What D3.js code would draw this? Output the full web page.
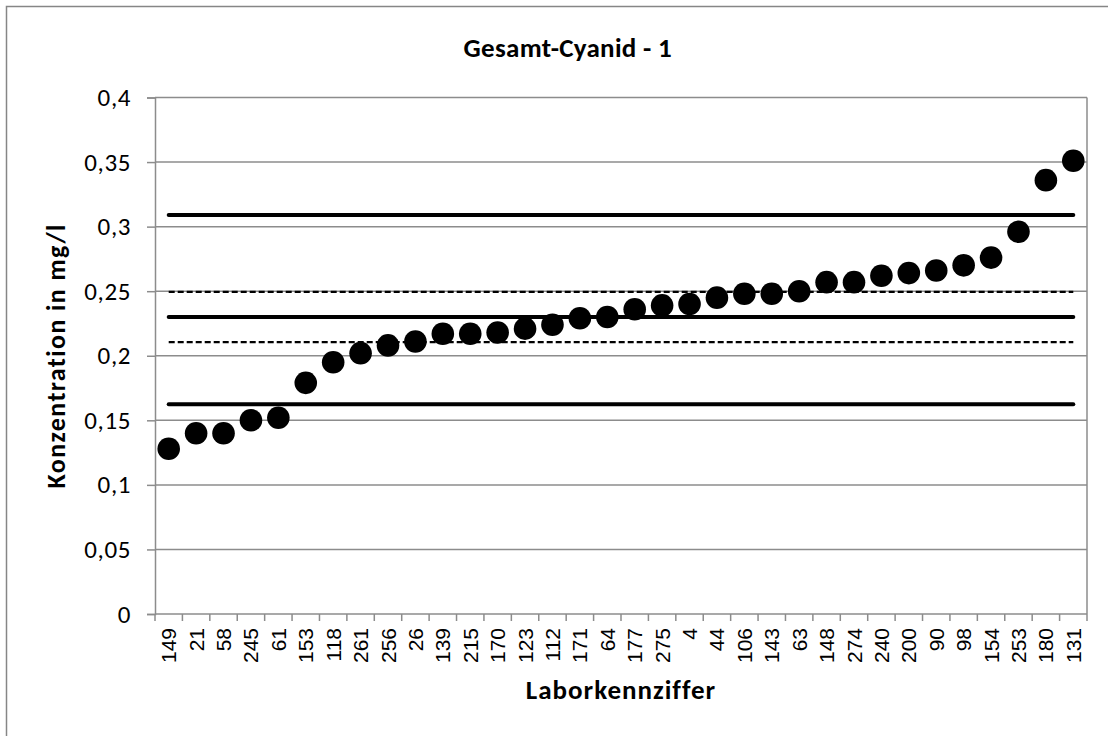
<!DOCTYPE html>
<html>
<head>
<meta charset="utf-8">
<script src="https://cdn.jsdelivr.net/npm/d3@7"></script>
<style>
  html, body { margin: 0; padding: 0; background: #fff; }
  svg { display: block; }
</style>
</head>
<body>
<svg id="chart" width="1108" height="736"></svg>
<script>
// Laboratory codes, in the order they are plotted (sorted by result)
const labs = ["149","21","58","245","61","153","118","261","256","26","139","215","170","123","112","171","64","177","275","4","44","106","143","63","148","274","240","200","90","98","154","253","180","131"];
// Reported concentration per laboratory, mg/l
const values = [0.128,0.140,0.140,0.150,0.152,0.179,0.195,0.202,0.208,0.211,0.217,0.217,0.218,0.221,0.224,0.229,0.230,0.236,0.239,0.240,0.245,0.248,0.248,0.250,0.257,0.257,0.262,0.264,0.266,0.270,0.276,0.296,0.336,0.351];
// Reference lines: assigned value, tolerance limits and inner band
const solidLines = [0.309, 0.230, 0.1625];
const dashedLines = [0.2495, 0.2105];
const yTicks = [0, 0.05, 0.1, 0.15, 0.2, 0.25, 0.3, 0.35, 0.4];

const svg = d3.select("#chart");
const W = 1108, H = 736;
const plot = { left: 155, right: 1087, top: 97.5, bottom: 614 };
const gridColor = "#8c8c8c";
const calibri = "Carlito, Calibri, 'Open Sans', sans-serif";

// Outer chart frame
svg.append("rect")
  .attr("x", 6.5).attr("y", 6.5)
  .attr("width", W + 10).attr("height", H + 10)
  .attr("fill", "#fff").attr("stroke", "#868686").attr("stroke-width", 1.5);

const x = d3.scaleBand().domain(labs).range([plot.left, plot.right]).paddingInner(0).paddingOuter(0);
const y = d3.scaleLinear().domain([0, 0.4]).range([plot.bottom, plot.top]);
const cx = d => x(d) + x.bandwidth() / 2;

// Horizontal gridlines
svg.append("g").selectAll("line").data(yTicks.filter(v => v > 0)).join("line")
  .attr("x1", plot.left).attr("x2", plot.right)
  .attr("y1", d => y(d)).attr("y2", d => y(d))
  .attr("stroke", gridColor).attr("stroke-width", 1.5);

// Right border of plot area
svg.append("line")
  .attr("x1", plot.right).attr("x2", plot.right)
  .attr("y1", plot.top).attr("y2", plot.bottom)
  .attr("stroke", gridColor).attr("stroke-width", 1.5);

// Y axis
const fmt = v => String(+v.toFixed(2)).replace(".", ",");
const yAxis = svg.append("g")
  .attr("transform", `translate(${plot.left},0)`)
  .call(d3.axisLeft(y).tickValues(yTicks).tickSize(8).tickPadding(16).tickFormat(fmt));
yAxis.select(".domain").attr("stroke", gridColor).attr("stroke-width", 1.5);
yAxis.selectAll(".tick line").attr("stroke", gridColor).attr("stroke-width", 1.5);
yAxis.selectAll("text")
  .attr("font-family", calibri)
  .attr("font-size", 25).attr("letter-spacing", 0.6).attr("fill", "#000");

// X axis with ticks on band boundaries
const xAxisG = svg.append("g").attr("transform", `translate(0,${plot.bottom})`);
xAxisG.append("line")
  .attr("x1", plot.left).attr("x2", plot.right)
  .attr("stroke", gridColor).attr("stroke-width", 1.5);
const bounds = labs.map(d => x(d)).concat([plot.right]);
xAxisG.selectAll("line.tk").data(bounds).join("line")
  .attr("class", "tk")
  .attr("x1", d => d).attr("x2", d => d)
  .attr("y1", 0).attr("y2", 7)
  .attr("stroke", gridColor).attr("stroke-width", 1.5);
xAxisG.selectAll("text").data(labs).join("text")
  .attr("transform", d => `translate(${cx(d) + 7.5},14) rotate(-90)`)
  .attr("text-anchor", "end")
  .attr("font-family", "'Liberation Sans', Arial, sans-serif")
  .attr("font-size", 21).attr("fill", "#000")
  .text(d => d);

// Reference lines span from first to last category
const x0 = cx(labs[0]), x1 = cx(labs[labs.length - 1]);
svg.append("g").selectAll("line").data(solidLines).join("line")
  .attr("x1", x0).attr("x2", x1)
  .attr("y1", d => y(d)).attr("y2", d => y(d))
  .attr("stroke", "#000").attr("stroke-width", 4).attr("stroke-linecap", "round");
svg.append("g").selectAll("line").data(dashedLines).join("line")
  .attr("x1", x0).attr("x2", x1)
  .attr("y1", d => y(d)).attr("y2", d => y(d))
  .attr("stroke", "#000").attr("stroke-width", 2.2).attr("stroke-dasharray", "6,3");

// Laboratory results
svg.append("g").selectAll("circle").data(labs).join("circle")
  .attr("cx", d => cx(d))
  .attr("cy", (d, i) => y(values[i]))
  .attr("r", 11.3)
  .attr("fill", "#000");

// Titles
svg.append("text")
  .attr("x", 672).attr("y", 57)
  .attr("text-anchor", "end")
  .attr("font-family", calibri).attr("font-weight", "bold")
  .attr("font-size", 27).attr("letter-spacing", 0.3).attr("fill", "#000")
  .text("Gesamt-Cyanid - 1");
svg.append("text")
  .attr("x", (plot.left + plot.right) / 2).attr("y", 699)
  .attr("text-anchor", "middle")
  .attr("font-family", calibri).attr("font-weight", "bold")
  .attr("font-size", 27).attr("letter-spacing", 1).attr("fill", "#000")
  .text("Laborkennziffer");
svg.append("text")
  .attr("transform", `translate(65,${(plot.top + plot.bottom) / 2}) rotate(-90)`)
  .attr("text-anchor", "middle")
  .attr("font-family", calibri).attr("font-weight", "bold")
  .attr("font-size", 26).attr("letter-spacing", 1.4).attr("fill", "#000")
  .text("Konzentration in mg/l");
</script>
</body>
</html>
